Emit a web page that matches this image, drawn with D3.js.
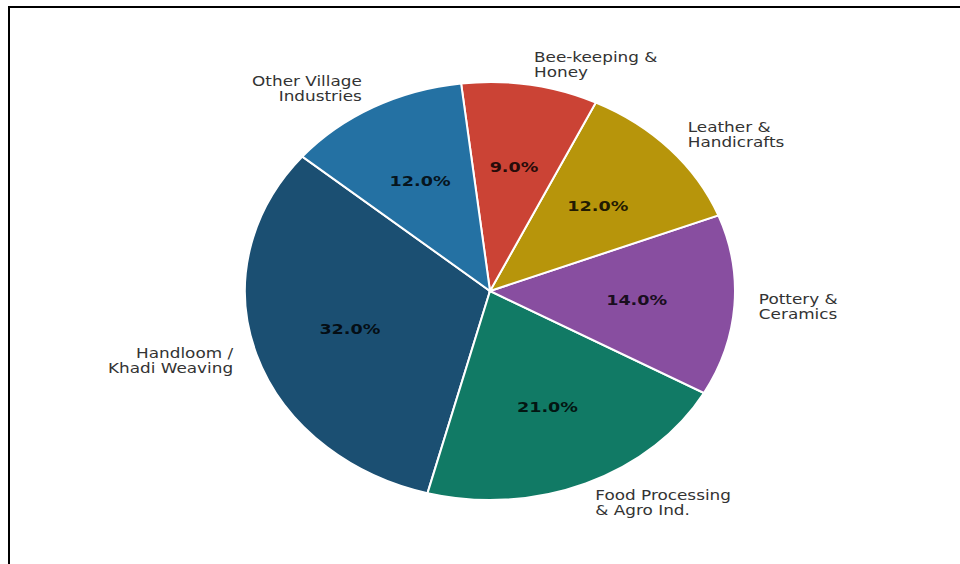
<!DOCTYPE html>
<html>
<head>
<meta charset="utf-8">
<script src="https://cdn.jsdelivr.net/npm/d3@7"></script>
<style>
  body { margin: 0; background: #fff; }
  text { font-family: "DejaVu Sans", sans-serif; }
</style>
</head>
<body>
<script>
// categories and shares (%)
var labels = [
    ["Handloom /", "Khadi Weaving"],
    ["Food Processing", "& Agro Ind."],
    ["Pottery &", "Ceramics"],
    ["Leather &", "Handicrafts"],
    ["Bee-keeping &", "Honey"],
    ["Other Village", "Industries"]
];
var values = [32, 21, 14, 12, 9, 12];
var colors = ["#1b4f72", "#117a65", "#884ea0", "#b7950b", "#cb4335", "#2471a3"];

var width = 960;
var height = 564;

var svg = d3.select("body")
    .append("svg")
    .attr("width", width)
    .attr("height", height);

// frame
svg.append("path")
    .attr("d", "M9," + height + "V7H" + width)
    .attr("fill", "none")
    .attr("stroke", "#000")
    .attr("stroke-width", 2);

// the pie is drawn as an ellipse (stretched like the original)
var cx = 490, cy = 291;
var rx = 245, ry = 209;
var sx = 1.23; // horizontal stretch of text

var startDeg = 140; // counter-clockwise from east, like matplotlib
var toRad = Math.PI / 180;

var pie = d3.pie()
    .sort(null)
    .startAngle((90 - startDeg) * toRad)
    .endAngle((90 - startDeg - 360) * toRad);

var arcs = pie(values);

var arc = d3.arc().innerRadius(0).outerRadius(1);

var g = svg.append("g")
    .attr("transform", "translate(" + cx + "," + cy + ") scale(" + rx + "," + ry + ")");

g.selectAll("path")
    .data(arcs)
    .enter()
    .append("path")
    .attr("d", arc)
    .attr("fill", function(d, i) { return colors[i]; })
    .attr("stroke", "#fff")
    .attr("stroke-width", 2)
    .attr("vector-effect", "non-scaling-stroke");

// point on the ellipse at a given fraction of the radius
function pos(d, k) {
    var a = (d.startAngle + d.endAngle) / 2;
    return [cx + k * rx * Math.sin(a), cy - k * ry * Math.cos(a)];
}

// percentage labels
svg.selectAll(".pct")
    .data(arcs)
    .enter()
    .append("text")
    .attr("class", "pct")
    .attr("transform", function(d) {
        var p = pos(d, 0.6);
        return "translate(" + p[0] + "," + p[1] + ") scale(" + sx + ",1)";
    })
    .attr("text-anchor", "middle")
    .attr("dy", "0.36em")
    .attr("font-size", 14.3)
    .attr("font-weight", "bold")
    .attr("fill", "rgba(0,0,0,0.82)")
    .text(function(d) { return d3.format(".1f")(d.value) + "%"; });

// category labels
var lineH = 15;
var lab = svg.selectAll(".lab")
    .data(arcs)
    .enter()
    .append("text")
    .attr("class", "lab")
    .attr("transform", function(d) {
        var p = pos(d, 1.1);
        return "translate(" + p[0] + "," + p[1] + ") scale(" + sx + ",1)";
    })
    .attr("text-anchor", function(d) {
        return pos(d, 1.1)[0] > cx ? "start" : "end";
    })
    .attr("font-size", 13.7)
    .attr("fill", "#333");

lab.each(function(d, i) {
    var lines = labels[i];
    var t = d3.select(this);
    lines.forEach(function(s, j) {
        t.append("tspan")
            .attr("x", 0)
            .attr("y", (j - (lines.length - 1) / 2) * lineH)
            .attr("dy", "0.36em")
            .text(s);
    });
});
</script>
</body>
</html>
